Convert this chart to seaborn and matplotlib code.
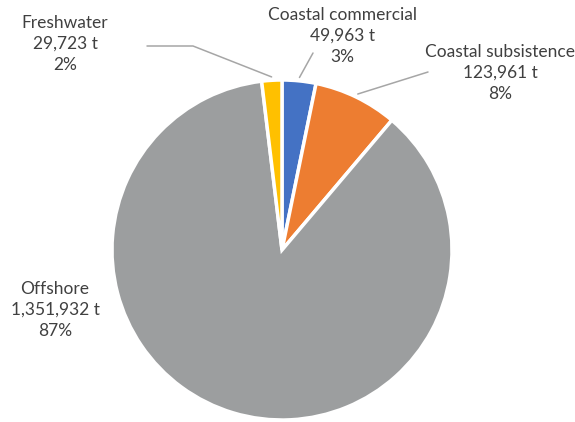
import numpy as np
import matplotlib
matplotlib.use("Agg")
import matplotlib.pyplot as plt
import seaborn as sns

# catch by sector
sectors = ["Coastal commercial", "Coastal subsistence", "Offshore", "Freshwater"]
tonnes = [49963, 123961, 1351932, 29723]
colours = ["#4472C4", "#ED7D31", "#9C9E9F", "#FFC000"]

sns.set_style("white")
plt.rcParams["font.family"] = ["Lato", "DejaVu Sans"]

W, H = 575, 422
fig = plt.figure(figsize=(W / 100, H / 100), dpi=100)
ax = fig.add_axes([0, 0, 1, 1])

cx, cy, r = 282, 250, 170
total = sum(tonnes)
pct = [t / total * 100 for t in tonnes]

# y is inverted so the pie gets drawn mirrored -> draw counterclockwise from -90 deg
wedges, _ = ax.pie(tonnes, colors=colours, startangle=-90, counterclock=True,
                   center=(cx, cy), radius=r, frame=True,
                   wedgeprops=dict(edgecolor="white", linewidth=2.5))
ax.set_xlim(0, W)
ax.set_ylim(H, 0)  # pixel coords, y down
ax.set_aspect("equal")
ax.axis("off")

def edge_point(w, frac=1.0):
    a = np.deg2rad((w.theta1 + w.theta2) / 2)
    return cx + r * frac * np.cos(a), cy + r * frac * np.sin(a)

lbl = [f"{s}\n{t:,} t\n{round(p)}%" for s, t, p in zip(sectors, tonnes, pct)]
text_pos = [(342, 36), (500, 73), (55, 310), (65, 44)]

for i, (tx, ty) in enumerate(text_pos):
    ax.text(tx, ty, lbl[i], ha="center", va="center", fontsize=12.5,
            color="#404040", linespacing=1.42)

line_kw = dict(color="#A6A6A6", lw=1.1)
# leader lines
px, py = edge_point(wedges[0], 1.02)
ax.plot([313, px], [53, py], **line_kw)
px, py = edge_point(wedges[1], 1.02)
ax.plot([428, px], [72, py], **line_kw)
px, py = edge_point(wedges[3], 1.02)
ax.plot([147, 193, px], [46, 46, py], **line_kw)

fig.savefig("out.png", dpi=100, facecolor="white")
